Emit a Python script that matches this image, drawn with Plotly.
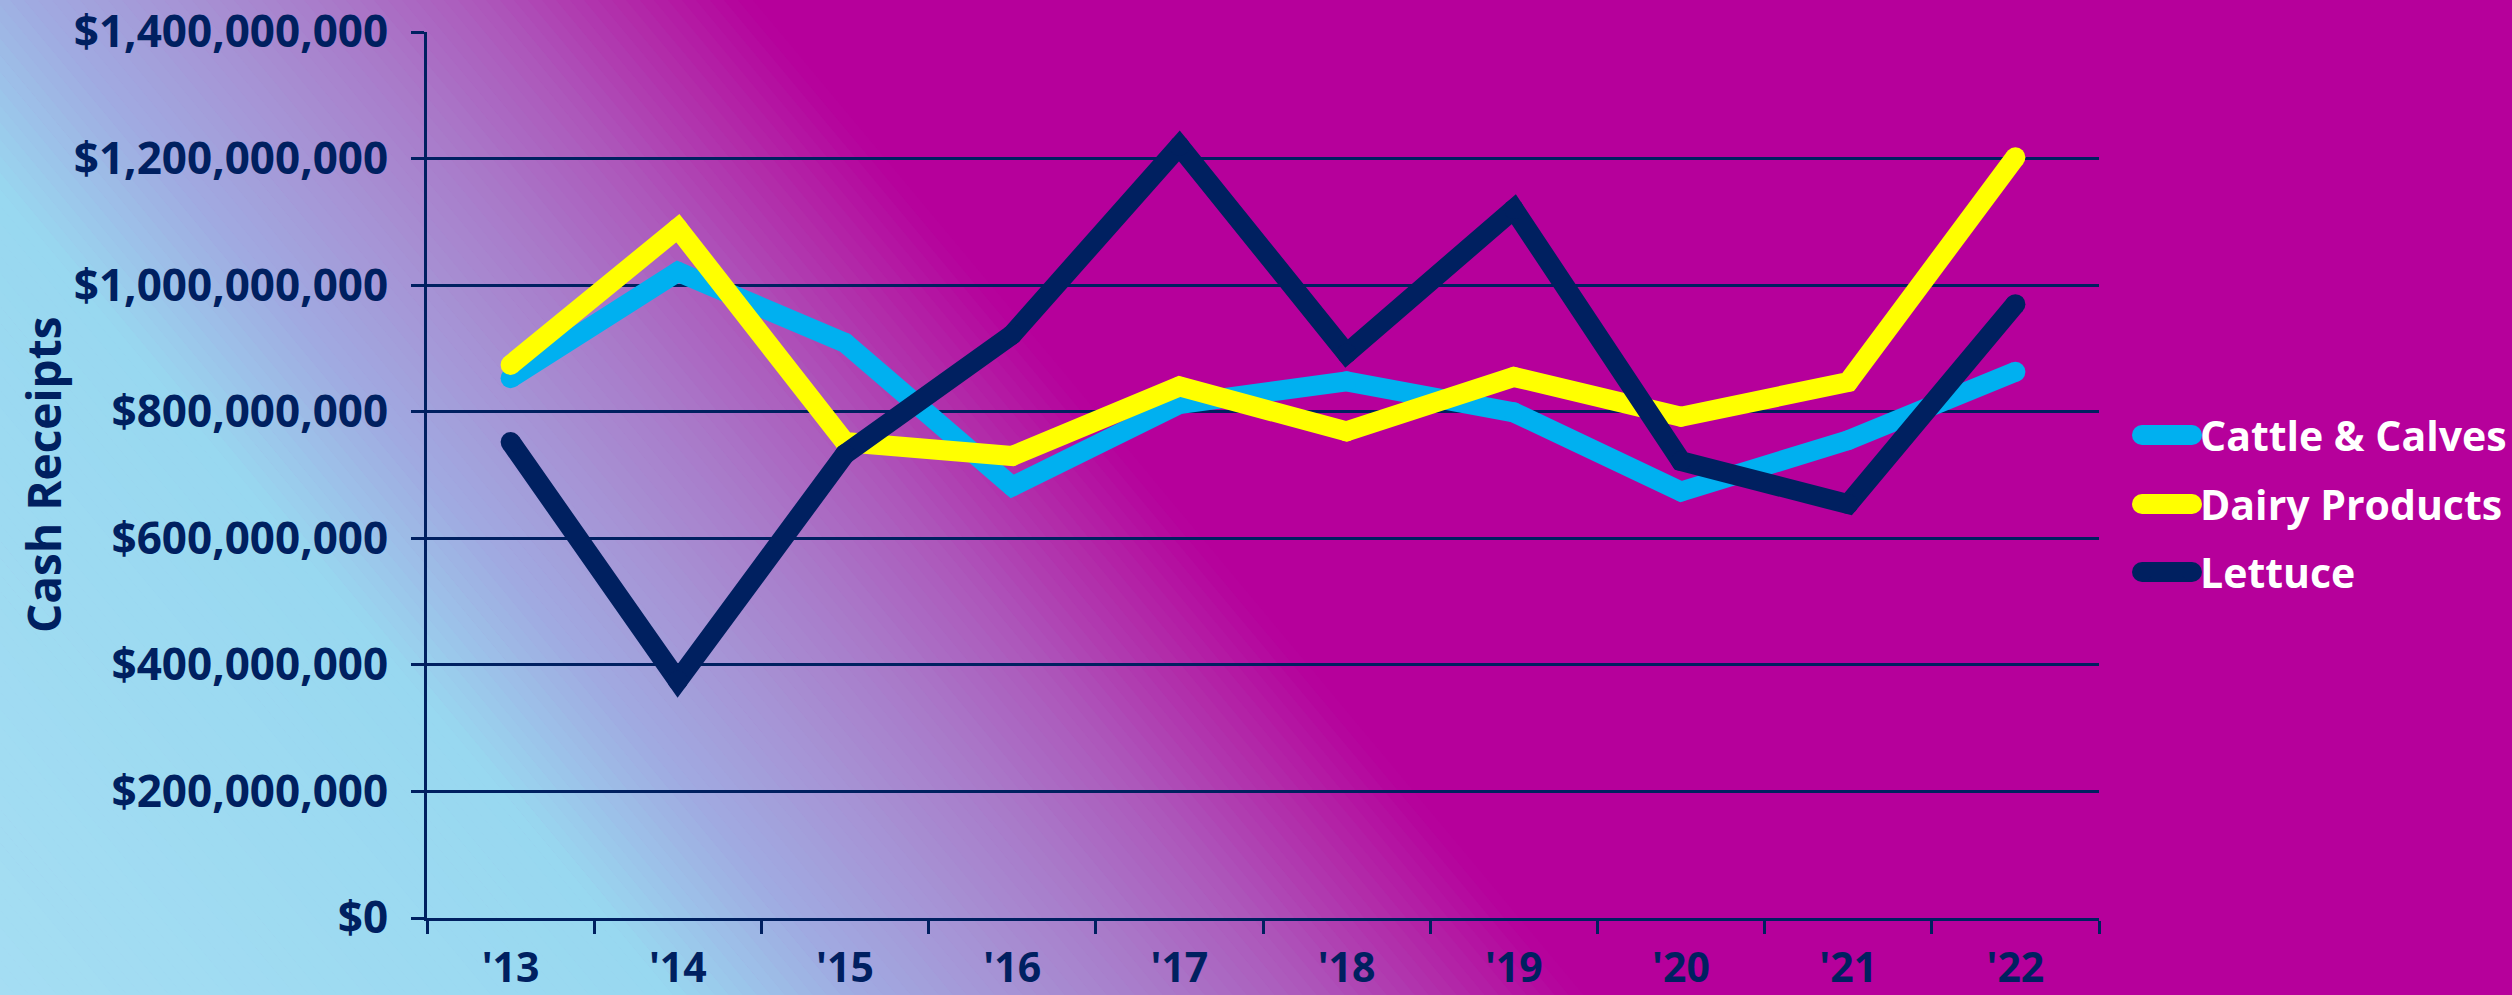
import plotly.graph_objects as go

# ---------------- data ----------------
years = ["'13", "'14", "'15", "'16", "'17", "'18", "'19", "'20", "'21", "'22"]
cattle_calves = [853_000_000, 1_021_000_000, 909_000_000, 682_000_000, 812_000_000,
                 848_000_000, 799_000_000, 674_000_000, 755_000_000, 863_000_000]
dairy_products = [874_000_000, 1_090_000_000, 752_000_000, 730_000_000, 840_000_000,
                  769_000_000, 855_000_000, 792_000_000, 847_000_000, 1_202_000_000]
lettuce = [752_000_000, 375_000_000, 733_000_000, 922_000_000, 1_220_000_000,
           892_000_000, 1_120_000_000, 722_000_000, 654_000_000, 970_000_000]
series_names = ["Cattle & Calves", "Dairy Products", "Lettuce"]
series_colors = ["#00B0F0", "#FFFF00", "#002060"]

# ---------------- geometry / style ----------------
W, H = 2512, 995
L, R, T, B = 427, 2099, 32, 918
PW, PH = R - L, B - T
NAVY = "#002060"
MAGENTA = "rgb(182,0,155)"
FONT = "Open Sans"


def px(X):
    return (X - L) / PW


def py(Y):
    return (B - Y) / PH


fig = go.Figure()
for name, vals, col in zip(series_names, [cattle_calves, dairy_products, lettuce], series_colors):
    fig.add_trace(go.Scatter(
        x=years, y=vals, name=name, mode="lines+markers",
        line=dict(color=col, width=20),
        marker=dict(color=col, size=20, line=dict(width=0)),
        showlegend=False,
    ))

shapes = []

# ---- diagonal gradient background (light blue -> lavender -> magenta) ----
stops = [(-900, (166, 222, 243)), (-160, (152, 216, 240)), (30, (160, 170, 225)),
         (180, (166, 148, 213)), (330, (169, 122, 201)), (480, (173, 88, 187)),
         (630, (178, 40, 168)), (750, (182, 0, 155))]
K = 0.835  # contour slope dx/dy


def col_at(s):
    for (s0, c0), (s1, c1) in zip(stops[:-1], stops[1:]):
        if s0 <= s <= s1:
            f = (s - s0) / (s1 - s0)
            return "rgb(%d,%d,%d)" % tuple(round(a + (b - a) * f) for a, b in zip(c0, c1))
    return "rgb(%d,%d,%d)" % (stops[-1][1] if s > stops[-1][0] else stops[0][1])


def band(s0, s1, color):
    y_top, y_bot = -20, H + 20
    pts = [(s0 + K * y_top, y_top), (s1 + K * y_top, y_top),
           (s1 + K * y_bot, y_bot), (s0 + K * y_bot, y_bot)]
    path = "M " + " L ".join("%.5f,%.5f" % (px(x), py(y)) for x, y in pts) + " Z"
    return dict(type="path", xref="paper", yref="paper", path=path,
                fillcolor=color, line=dict(width=0), layer="below")


shapes.append(band(-4000, -900, col_at(-900)))
step = 14
s = -900
while s < 750:
    shapes.append(band(s, s + step + 1, col_at(s + step / 2)))
    s += step

# ---- manual legend: rounded bars ----
leg_rows = [435, 504, 572]
bx0, bx1, rad = 2132, 2202, 10
for yc, col in zip(leg_rows, series_colors):
    shapes.append(dict(type="rect", xref="paper", yref="paper",
                       x0=px(bx0 + rad), x1=px(bx1 - rad), y0=py(yc + rad), y1=py(yc - rad),
                       fillcolor=col, line=dict(width=0), layer="above"))
    for cx in (bx0 + rad, bx1 - rad):
        shapes.append(dict(type="circle", xref="paper", yref="paper",
                           x0=px(cx - rad), x1=px(cx + rad), y0=py(yc + rad), y1=py(yc - rad),
                           fillcolor=col, line=dict(width=0), layer="above"))

annotations = []
for yc, name in zip(leg_rows, series_names):
    annotations.append(dict(x=px(2198), y=py(yc), xref="paper", yref="paper",
                            text=name, showarrow=False, xanchor="left", yanchor="middle",
                            font=dict(family=FONT, size=41, color="white", weight="bold")))

annotations.append(dict(x=px(43), y=py((T + B) / 2), xref="paper", yref="paper",
                        text="Cash Receipts", showarrow=False, textangle=-90,
                        xanchor="center", yanchor="middle",
                        font=dict(family=FONT, size=46, color=NAVY, weight="bold")))

ytickfont = dict(family=FONT, size=44, color=NAVY, weight="bold")
xtickfont = dict(family=FONT, size=41, color=NAVY, weight="bold")

fig.update_layout(
    width=W, height=H, autosize=False,
    margin=dict(l=L, r=W - R, t=T, b=H - B, pad=0, autoexpand=False),
    paper_bgcolor=MAGENTA, plot_bgcolor="rgba(0,0,0,0)",
    shapes=shapes, annotations=annotations, showlegend=False,
    xaxis=dict(type="category", range=[-0.5, len(years) - 0.5],
               showgrid=False, showline=True, linecolor=NAVY, linewidth=3,
               ticks="outside", tickson="boundaries", ticklen=13, tickwidth=3, tickcolor=NAVY,
               tickfont=xtickfont, ticklabelstandoff=12, zeroline=False, automargin=False),
    yaxis=dict(range=[0, 1_400_000_000], dtick=200_000_000, tickformat="$,.0f",
               showgrid=True, gridcolor=NAVY, gridwidth=3,
               showline=True, linecolor=NAVY, linewidth=3,
               ticks="outside", ticklen=13, tickwidth=3, tickcolor=NAVY,
               tickfont=ytickfont, ticklabelstandoff=14, zeroline=False, automargin=False),
)

fig.write_html("out.html", config={"displayModeBar": False},
               post_script="document.body.style.margin='0';document.body.style.padding='0';"
                           "document.body.style.overflow='hidden';")
